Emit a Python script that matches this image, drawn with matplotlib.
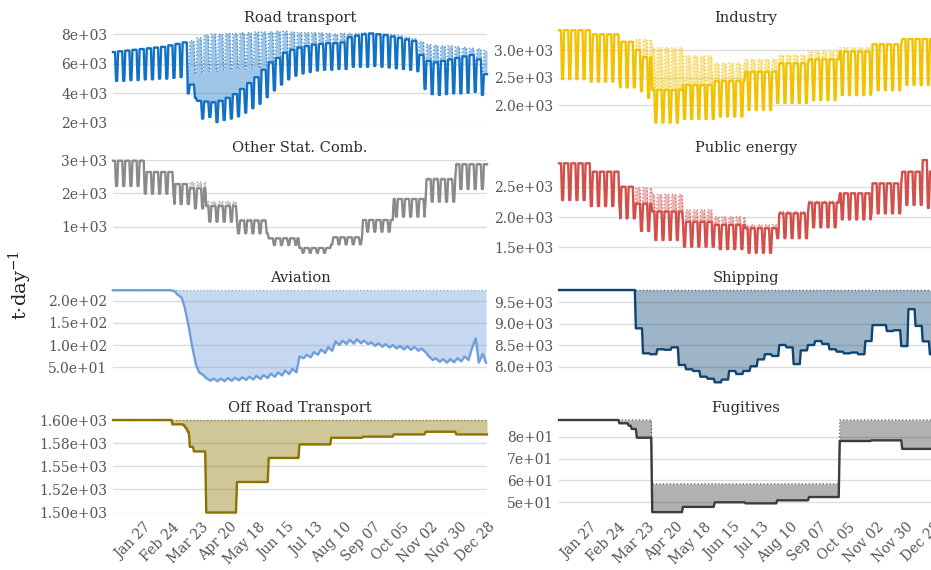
import numpy as np
import pandas as pd
import matplotlib
matplotlib.use('Agg')
import matplotlib.pyplot as plt
import matplotlib.dates as mdates
from matplotlib.transforms import ScaledTranslation

plt.rcParams['font.family'] = ['DejaVu Serif']
plt.rcParams['mathtext.fontset'] = 'dejavuserif'

days = pd.date_range('2020-01-01', '2020-12-31', freq='D')

# %% weekly values, weeks start on Monday (week 0 = Dec 30 2019)
road_hi = [6800, 6850, 6900, 6950, 7000, 7050, 7100, 7150, 7250, 7350, 7450,
           4600, 3500, 3450, 3400, 3500, 3700, 3950, 4300, 4700, 5100,
           5600, 6100, 6400, 6750, 6950, 7100, 7200, 7300, 7350, 7400,
           7400, 7450, 7800, 7900, 8000, 8050, 8000, 7950, 7850, 7750,
           7650, 7550, 6600, 6200, 6100, 6200, 6300, 6400, 6500, 6600,
           6300, 5300]
road_lo = [4850, 4850, 4900, 4900, 4950, 4950, 5000, 5000, 5050, 5100, 4000,
           3700, 2300, 2400, 2060, 2200, 2300, 2450, 2700, 3000, 3300,
           3750, 4200, 4600, 4950, 5200, 5350, 5450, 5550, 5600, 5600,
           5650, 5650, 5800, 5800, 5800, 5850, 5800, 5750, 5700, 5650,
           5600, 5500, 4300, 3950, 3900, 3950, 4000, 4000, 4050, 4100,
           3900, 4300]
road_base_hi = [6800, 6850, 6900, 6950, 7000, 7050, 7100, 7150, 7250, 7350, 7450,
                7550, 7750, 7950, 8000, 8000, 8050, 8050, 8100, 8100, 8150,
                8150, 8150, 8200, 8200, 8150, 8100, 8100, 8100, 8100, 8050,
                8000, 8050, 8050, 8050, 8100, 8100, 8050, 8000, 7950, 7900,
                7800, 7700, 7500, 7300, 7250, 7200, 7200, 7150, 7100, 7050,
                7000, 6900]
road_base_lo = [4850, 4850, 4900, 4900, 4950, 4950, 5000, 5000, 5050, 5100, 5200,
                5300, 5400, 5500, 5500, 5600, 5600, 5650, 5650, 5700, 5700,
                5700, 5750, 5750, 5800, 5800, 5800, 5800, 5800, 5800, 5800,
                5800, 5800, 5850, 5850, 5850, 5900, 5850, 5800, 5750, 5700,
                5650, 5600, 5550, 5500, 5500, 5450, 5450, 5400, 5400, 5400,
                5300, 5300]

# %% monthly-ish levels (weekday / weekend)
ind_starts = ['2020-01-01', '2020-02-01', '2020-03-01', '2020-03-16', '2020-03-23', '2020-04-01',
              '2020-05-01', '2020-06-01', '2020-07-01', '2020-08-01', '2020-09-01', '2020-10-01',
              '2020-11-01', '2020-12-01']
ind_hi = [3360, 3285, 3150, 3000, 2870, 2273, 2364, 2436, 2606, 2758, 2830, 2970, 3103, 3200]
ind_lo = [2470, 2425, 2320, 2250, 2130, 1680, 1745, 1790, 1910, 2036, 2090, 2180, 2270, 2364]
ind_base_hi = [3360, 3285, 3150, 3190, 3190, 3040, 2890, 2758, 2830, 2910, 2970, 3040, 3120, 3200]
ind_base_lo = [2470, 2425, 2320, 2330, 2330, 2280, 2200, 2100, 2150, 2200, 2250, 2300, 2290, 2364]

os_starts = ['2020-01-01', '2020-02-01', '2020-03-01', '2020-03-16', '2020-04-01', '2020-05-01',
             '2020-06-01', '2020-07-01', '2020-08-01', '2020-09-01', '2020-10-01', '2020-11-01',
             '2020-12-01']
os_hi = [2980, 2640, 2280, 2150, 1620, 1180, 650, 360, 680, 1200, 1830, 2420, 2870]
os_lo = [2220, 1990, 1680, 1550, 1150, 800, 450, 215, 470, 850, 1300, 1750, 2130]
os_base_hi = [2980, 2640, 2280, 2330, 1750, 1220, 660, 360, 680, 1200, 1830, 2460, 2900]
os_base_lo = [2220, 1990, 1680, 1700, 1230, 820, 450, 215, 470, 850, 1300, 1780, 2150]

pe_starts = ['2020-01-01', '2020-02-01', '2020-03-01', '2020-03-16', '2020-04-01', '2020-05-01',
             '2020-06-01', '2020-07-01', '2020-08-01', '2020-09-01', '2020-10-01', '2020-11-01',
             '2020-12-01', '2020-12-21', '2020-12-28']
pe_hi = [2886, 2748, 2500, 2220, 2090, 1920, 1870, 1815, 2060, 2236, 2390, 2555, 2748, 2940, 2750]
pe_lo = [2280, 2180, 1978, 1770, 1620, 1510, 1470, 1410, 1650, 1830, 1960, 2060, 2200, 2150, 2060]
pe_base_hi = [2886, 2748, 2500, 2480, 2370, 2115, 2000, 1870, 2090, 2260, 2400, 2555, 2748, 2940, 2750]
pe_base_lo = [2280, 2180, 1978, 1960, 1900, 1700, 1600, 1480, 1680, 1850, 1970, 2060, 2200, 2150, 2060]

# %% aviation: weekly Wednesday / Sunday readings
avi_wed = [224, 224, 224, 224, 224, 224, 224, 224, 224, 214, 185, 100, 38, 25, 24, 24, 25, 26,
           27, 28, 30, 32, 35, 38, 42, 46, 74, 78, 84, 90, 95, 108, 110, 112, 113, 110, 106,
           104, 102, 100, 98, 97, 96, 92, 75, 70, 68, 68, 70, 74, 90, 60, 60]
avi_sun = [224, 224, 224, 224, 224, 224, 224, 224, 222, 207, 140, 55, 32, 19, 18, 18, 19, 20,
           21, 22, 23, 25, 28, 31, 34, 38, 70, 72, 78, 82, 87, 100, 102, 103, 104, 102, 98,
           96, 94, 92, 90, 89, 87, 84, 66, 62, 60, 61, 63, 66, 115, 80, 59]
avi_base = 224.2

# %% shipping: weekly steps
ship_wk = [9786, 9786, 9786, 9786, 9786, 9786, 9786, 9786, 9786, 9786, 9786,
           8893, 8311, 8290, 8405, 8395, 8450, 8040, 7940, 7900, 7767,
           7720, 7636, 7700, 7900, 7830, 7900, 8010, 8170, 8290, 8250,
           8505, 8450, 8060, 8380, 8505, 8597, 8530, 8405, 8350, 8311,
           8330, 8290, 8597, 8970, 8970, 8830, 8850, 8480, 9340, 8950,
           8590, 8290]
ship_base = 9786

# %% off road and fugitives: steps
off_dates = ['2020-01-01', '2020-02-28', '2020-03-10', '2020-03-12', '2020-03-14', '2020-03-16',
             '2020-03-20', '2020-04-01', '2020-05-01', '2020-06-01', '2020-07-01', '2020-08-01',
             '2020-09-01', '2020-10-01', '2020-11-01', '2020-12-01']
off_vals = [1600, 1595.3, 1594, 1591, 1587, 1571, 1566, 1500, 1533, 1559, 1573.6, 1580.8,
            1582, 1584.4, 1587.3, 1584.4]
off_base = 1600

fug_dates = ['2020-01-01', '2020-02-29', '2020-03-09', '2020-03-12', '2020-03-17', '2020-04-01',
             '2020-05-01', '2020-06-01', '2020-07-01', '2020-08-01', '2020-09-01', '2020-10-01',
             '2020-11-01', '2020-12-01']
fug_vals = [87.6, 86.1, 85, 83.5, 79.5, 45.5, 47.9, 50, 49.5, 50.9, 52.4, 78, 78.3, 74.4]
fug_base_dates = ['2020-01-01', '2020-04-01', '2020-10-01']
fug_base_vals = [87.6, 58.4, 87.6]

tick_dates = ['2020-01-27', '2020-02-24', '2020-03-23', '2020-04-20', '2020-05-18', '2020-06-15',
              '2020-07-13', '2020-08-10', '2020-09-07', '2020-10-05', '2020-11-02', '2020-11-30',
              '2020-12-28']

# %% helpers to turn the readings into daily series
weekend = np.asarray(days.dayofweek >= 5)
week_idx = np.asarray((days - pd.Timestamp('2019-12-30')).days // 7)


def weekly(hi, lo):
    return np.where(weekend, np.asarray(lo)[week_idx], np.asarray(hi)[week_idx])


def by_period(starts, hi, lo=None):
    idx = np.searchsorted(pd.to_datetime(starts), days, side='right') - 1
    hi = np.asarray(hi, dtype=float)[idx]
    if lo is None:
        return hi
    return np.where(weekend, np.asarray(lo, dtype=float)[idx], hi)


panels = {}
panels['Road transport'] = (days, weekly(road_hi, road_lo), weekly(road_base_hi, road_base_lo))
panels['Industry'] = (days, by_period(ind_starts, ind_hi, ind_lo), by_period(ind_starts, ind_base_hi, ind_base_lo))
panels['Other Stat. Comb.'] = (days, by_period(os_starts, os_hi, os_lo), by_period(os_starts, os_base_hi, os_base_lo))
panels['Public energy'] = (days, by_period(pe_starts, pe_hi, pe_lo), by_period(pe_starts, pe_base_hi, pe_base_lo))

mondays = pd.Timestamp('2019-12-30') + pd.to_timedelta(np.arange(len(avi_wed)) * 7, unit='D')
avi_x = np.concatenate([mondays + pd.Timedelta(days=2), mondays + pd.Timedelta(days=6)])
avi_y = np.concatenate([avi_wed, avi_sun])
order = np.argsort(avi_x)
avi_x, avi_y = pd.DatetimeIndex(avi_x[order]), avi_y[order]
keep = (avi_x >= days[0]) & (avi_x <= days[-1])
avi_x, avi_y = avi_x[keep], avi_y[keep]
panels['Aviation'] = (avi_x, avi_y, np.full(len(avi_y), avi_base))

ship = np.asarray(ship_wk, dtype=float)[week_idx]
panels['Shipping'] = (days, ship, np.full(len(days), ship_base))
panels['Off Road Transport'] = (days, by_period(off_dates, off_vals), np.full(len(days), off_base))
panels['Fugitives'] = (days, by_period(fug_dates, fug_vals), by_period(fug_base_dates, fug_base_vals))

colors = {
    'Road transport': '#1271c4',
    'Industry': '#f2c200',
    'Other Stat. Comb.': '#8a8a8a',
    'Public energy': '#d24f4a',
    'Aviation': '#6f9edb',
    'Shipping': '#0e4573',
    'Off Road Transport': '#8a7300',
    'Fugitives': '#3c3c3c',
}
ylims = {
    'Road transport': (2060, 8290),
    'Industry': (1673, 3364),
    'Other Stat. Comb.': (210, 3000),
    'Public energy': (1406, 2941),
    'Aviation': (14, 224.5),
    'Shipping': (7620, 9786),
    'Off Road Transport': (1499.5, 1600),
    'Fugitives': (45.1, 87.6),
}
yticks = {
    'Road transport': ([2000, 4000, 6000, 8000], ['2e+03', '4e+03', '6e+03', '8e+03']),
    'Industry': ([2000, 2500, 3000], ['2.0e+03', '2.5e+03', '3.0e+03']),
    'Other Stat. Comb.': ([1000, 2000, 3000], ['1e+03', '2e+03', '3e+03']),
    'Public energy': ([1500, 2000, 2500], ['1.5e+03', '2.0e+03', '2.5e+03']),
    'Aviation': ([50, 100, 150, 200], ['5.0e+01', '1.0e+02', '1.5e+02', '2.0e+02']),
    'Shipping': ([8000, 8500, 9000, 9500], ['8.0e+03', '8.5e+03', '9.0e+03', '9.5e+03']),
    'Off Road Transport': ([1500, 1525, 1550, 1575, 1600],
                           ['1.50e+03', '1.52e+03', '1.55e+03', '1.58e+03', '1.60e+03']),
    'Fugitives': ([50, 60, 70, 80], ['5e+01', '6e+01', '7e+01', '8e+01']),
}

layout = [['Road transport', 'Industry'],
          ['Other Stat. Comb.', 'Public energy'],
          ['Aviation', 'Shipping'],
          ['Off Road Transport', 'Fugitives']]

# %% draw
W, H = 931, 570
fig = plt.figure(figsize=(W / 100, H / 100), dpi=100)
col_x = [113, 559]
row_top = [30, 160, 290, 420]
pw, ph = 374, 93

for r, row in enumerate(layout):
    for c, name in enumerate(row):
        ax = fig.add_axes([col_x[c] / W, 1 - (row_top[r] + ph) / H, pw / W, ph / H])
        x, act, base = panels[name]
        col = colors[name]
        ax.fill_between(x, act, base, color=col, alpha=0.4, lw=0)
        ax.plot(x, base, color=col, lw=1.0, ls=(0, (1, 1.5)), alpha=0.75, clip_on=False)
        ax.plot(x, act, color=col, lw=1.7, clip_on=False)

        ax.set_xlim(days[0], days[-1])
        ax.set_ylim(*ylims[name])
        ax.set_yticks(yticks[name][0])
        ax.set_yticklabels(yticks[name][1])
        ax.grid(axis='y', color='#dddddd', lw=1)
        ax.set_axisbelow(True)
        for s in ax.spines.values():
            s.set_visible(False)
        ax.tick_params(axis='both', length=0, labelsize=10, labelcolor='#555555', pad=4)
        ax.set_title(name, fontsize=10.5, color='#2b2b2b', pad=6)

        ax.set_xticks(pd.to_datetime(tick_dates))
        if r == 3:
            ax.xaxis.set_major_formatter(mdates.DateFormatter('%b %d'))
            ax.tick_params(axis='x', pad=5)
            for lab in ax.get_xticklabels():
                lab.set_rotation(45)
                lab.set_ha('right')
                lab.set_va('top')
                lab.set_rotation_mode('anchor')
                lab.set_transform(lab.get_transform() + ScaledTranslation(3 / 72, 0, fig.dpi_scale_trans))
        else:
            ax.set_xticklabels([])

fig.text(20 / W, 0.5, 't·day$^{-1}$', rotation=90, ha='center', va='center',
         fontsize=14, color='#222222')

fig.savefig('out.png', dpi=100)
